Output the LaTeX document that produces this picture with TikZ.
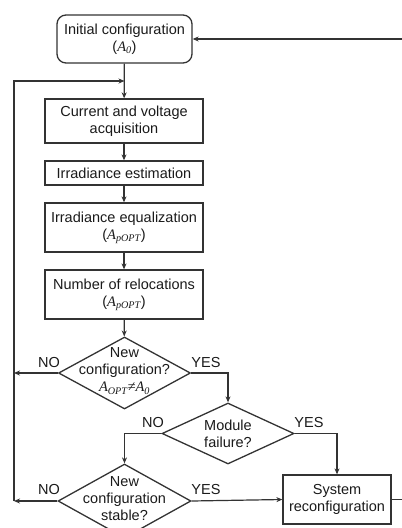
\documentclass[tikz,border=0pt]{standalone}
\usepackage{fontspec}
\setmainfont{Liberation Sans}
\newfontfamily\tms{Liberation Serif}
\usetikzlibrary{shapes.geometric,arrows.meta}
\newcommand\mA[1]{{\tms\itshape A\textsubscript{#1}}}
\definecolor{ln}{HTML}{333333}
\definecolor{tx}{HTML}{1A1A1A}
\tikzset{
  every node/.style={text=tx,font=\fontsize{14.5}{17}\selectfont},
  procbox/.style={draw=ln,line width=1.3pt,rectangle,inner sep=0pt,align=center,minimum width=158pt},
  roundbox/.style={procbox,rounded corners=9pt,minimum width=135pt,minimum height=48pt},
  decbox/.style={draw=ln,line width=1.3pt,diamond,inner sep=0pt},
  dectext/.style={align=center,inner sep=0pt},
  lbl/.style={inner sep=0pt},
  conn/.style={draw=ln,line width=1.2pt,-{Stealth[length=6pt,width=5pt]}},
  plain/.style={draw=ln,line width=1.2pt}
}
\begin{document}
\begin{tikzpicture}[x=1pt,y=-1pt]
\clip (0,0) rectangle (402,528);
\useasboundingbox (0,0) rectangle (402,528);
\node[roundbox] (init) at (124.5,39) {Initial configuration\\(\mA{0})};
\node[procbox,minimum height=44pt] (cur) at (124,121) {Current and voltage\\acquisition};
\node[procbox,minimum height=24pt] (est) at (124,173) {Irradiance estimation};
\node[procbox,minimum height=49pt] (eq) at (124,227.5) {Irradiance equalization\\(\mA{pOPT})};
\node[procbox,minimum height=49pt] (num) at (124,294.5) {Number of relocations\\(\mA{pOPT})};
\node[decbox,minimum width=132pt,minimum height=72pt] (d1) at (124.5,373) {};
\node[dectext] at (124.5,371) {New\\configuration?\\{\tms\itshape A\textsubscript{OPT}≠A\textsubscript{0}}};
\node[decbox,minimum width=132pt,minimum height=61pt] (d2) at (228,433.5) {};
\node[dectext] at (228,434) {Module\\failure?};
\node[decbox,minimum width=133pt,minimum height=74pt] (d3) at (124.5,501) {};
\node[dectext] at (124.5,499) {New\\configuration\\stable?};
\node[procbox,minimum width=108pt,minimum height=49pt] (sys) at (337,499.5) {System\\reconfiguration};
% labels
\node[lbl] (no1) at (49,363) {NO};
\node[lbl] (yes1) at (206,363) {YES};
\node[lbl] (no2) at (153,423) {NO};
\node[lbl] (yes2) at (309,423) {YES};
\node[lbl] (no3) at (49,490) {NO};
\node[lbl] (yes3) at (206,490) {YES};
% coordinates
\coordinate (lt) at (14,81);
\coordinate (jt) at (124.5,81);
\coordinate (l1) at (14,373);
\coordinate (l3) at (14,501);
\coordinate (r1) at (402,39);
\coordinate (r3) at (402,499.5);
% connectors
\draw[conn] (init) -- (cur);
\draw[conn] (cur) -- (est);
\draw[conn] (est) -- (eq);
\draw[conn] (eq) -- (num);
\draw[conn] (num) -- (d1);
\draw[conn] (d1.west) -- (l1);
\draw[conn] (d3.west) -- (l3);
\draw[conn] (l3) -- (lt) -- (jt);
\draw[conn] (d1.east) -| (d2.north);
\draw[conn] (d2.west) -| (d3.north);
\draw[conn] (d2.east) -| (sys.north);
\draw[conn] (d3.east) -- (sys.west);
\draw[plain] (sys.east) -- (r3);
\draw[conn] (r1) -- (init.east);
\end{tikzpicture}
\end{document}
